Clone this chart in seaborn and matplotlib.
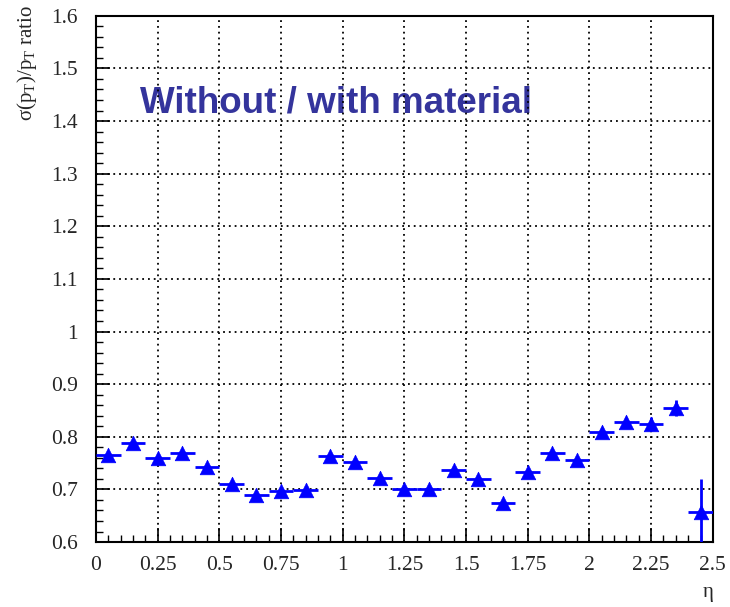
import numpy as np
import pandas as pd
import matplotlib
matplotlib.use("Agg")
import matplotlib.pyplot as plt
from matplotlib.ticker import MultipleLocator
import seaborn as sns

# Ratio of pT resolution without / with material, per eta bin
eta = [0.05, 0.15, 0.25, 0.35, 0.45, 0.55, 0.65, 0.75, 0.85, 0.95,
       1.05, 1.15, 1.25, 1.35, 1.45, 1.55, 1.65, 1.75, 1.85, 1.95,
       2.05, 2.15, 2.25, 2.35, 2.45]
ratio = [0.765, 0.788, 0.760, 0.769, 0.743, 0.710, 0.690, 0.697, 0.699, 0.763,
         0.752, 0.721, 0.700, 0.700, 0.737, 0.720, 0.674, 0.733, 0.770, 0.756,
         0.810, 0.828, 0.824, 0.855, 0.657]
ratio_err = [0.005, 0.005, 0.005, 0.005, 0.005, 0.005, 0.005, 0.005, 0.005, 0.005,
             0.005, 0.005, 0.005, 0.005, 0.005, 0.005, 0.005, 0.006, 0.006, 0.007,
             0.008, 0.009, 0.013, 0.015, 0.062]
bin_half_width = 0.05

x_ticks = [0, 0.25, 0.5, 0.75, 1, 1.25, 1.5, 1.75, 2, 2.25, 2.5]
x_tick_labels = ["0", "0.25", "0.5", "0.75", "1", "1.25", "1.5",
                 "1.75", "2", "2.25", "2.5"]
y_ticks = [0.6, 0.7, 0.8, 0.9, 1.0, 1.1, 1.2, 1.3, 1.4, 1.5, 1.6]
y_tick_labels = ["0.6", "0.7", "0.8", "0.9", "1", "1.1", "1.2",
                 "1.3", "1.4", "1.5", "1.6"]

df = pd.DataFrame({"eta": eta, "ratio": ratio, "err": ratio_err})

sns.set_theme(style="white")
plt.rcParams["font.family"] = ["Liberation Serif", "DejaVu Serif"]
plt.rcParams["mathtext.fontset"] = "custom"
plt.rcParams["mathtext.rm"] = "Liberation Serif"

fig = plt.figure(figsize=(7.30, 6.07), dpi=100)
ax = fig.add_axes([0.1315, 0.107, 0.845, 0.867])

blue = "#0000ff"
ax.errorbar(df["eta"], df["ratio"], xerr=bin_half_width, yerr=df["err"],
            fmt="none", ecolor=blue, elinewidth=2.0, capsize=0, zorder=3)
sns.scatterplot(data=df, x="eta", y="ratio", marker="^", s=110,
                color=blue, edgecolor=blue, linewidth=0.5, ax=ax, zorder=4,
                legend=False)

ax.set_xlim(0, 2.5)
ax.set_ylim(0.6, 1.6)
ax.set_xticks(x_ticks)
ax.set_xticklabels(x_tick_labels)
ax.set_yticks(y_ticks)
ax.set_yticklabels(y_tick_labels)
ax.xaxis.set_minor_locator(MultipleLocator(0.05))
ax.yaxis.set_minor_locator(MultipleLocator(0.02))

ax.tick_params(axis="both", which="major", direction="in", length=10,
               width=1.2, color="black", labelsize=15.5,
               bottom=True, left=True, top=False, right=False)
ax.tick_params(axis="x", which="major", pad=10)
ax.tick_params(axis="y", which="major", pad=13)
ax.tick_params(axis="both", which="minor", direction="in", length=5,
               width=1.0, color="black", bottom=True, left=True,
               top=False, right=False)

ax.grid(True, which="major", color="black", linestyle=(0, (1, 2.2)),
        linewidth=1.3)
ax.set_axisbelow(True)
for s in ax.spines.values():
    s.set_color("black")
    s.set_linewidth(1.5)

ax.set_xlabel("")
ax.set_ylabel("")
# axis titles in the top-left and bottom-right corners
fig.text(27 / 730, 1 - 5 / 607, r"σ(p$_{\mathrm{T}}$)/p$_{\mathrm{T}}$ ratio",
         rotation=90, ha="center", va="top", fontsize=15)
fig.text(708 / 730, 1 - 592 / 607, "η", ha="center", va="center",
         fontsize=15)

ax.text(0.178, 1.4156, "Without / with material", fontsize=26.5,
        fontweight="bold", family=["Liberation Sans", "DejaVu Sans"],
        color="#34349c", va="baseline", ha="left", zorder=0.2)

fig.savefig("out.png", dpi=100)
